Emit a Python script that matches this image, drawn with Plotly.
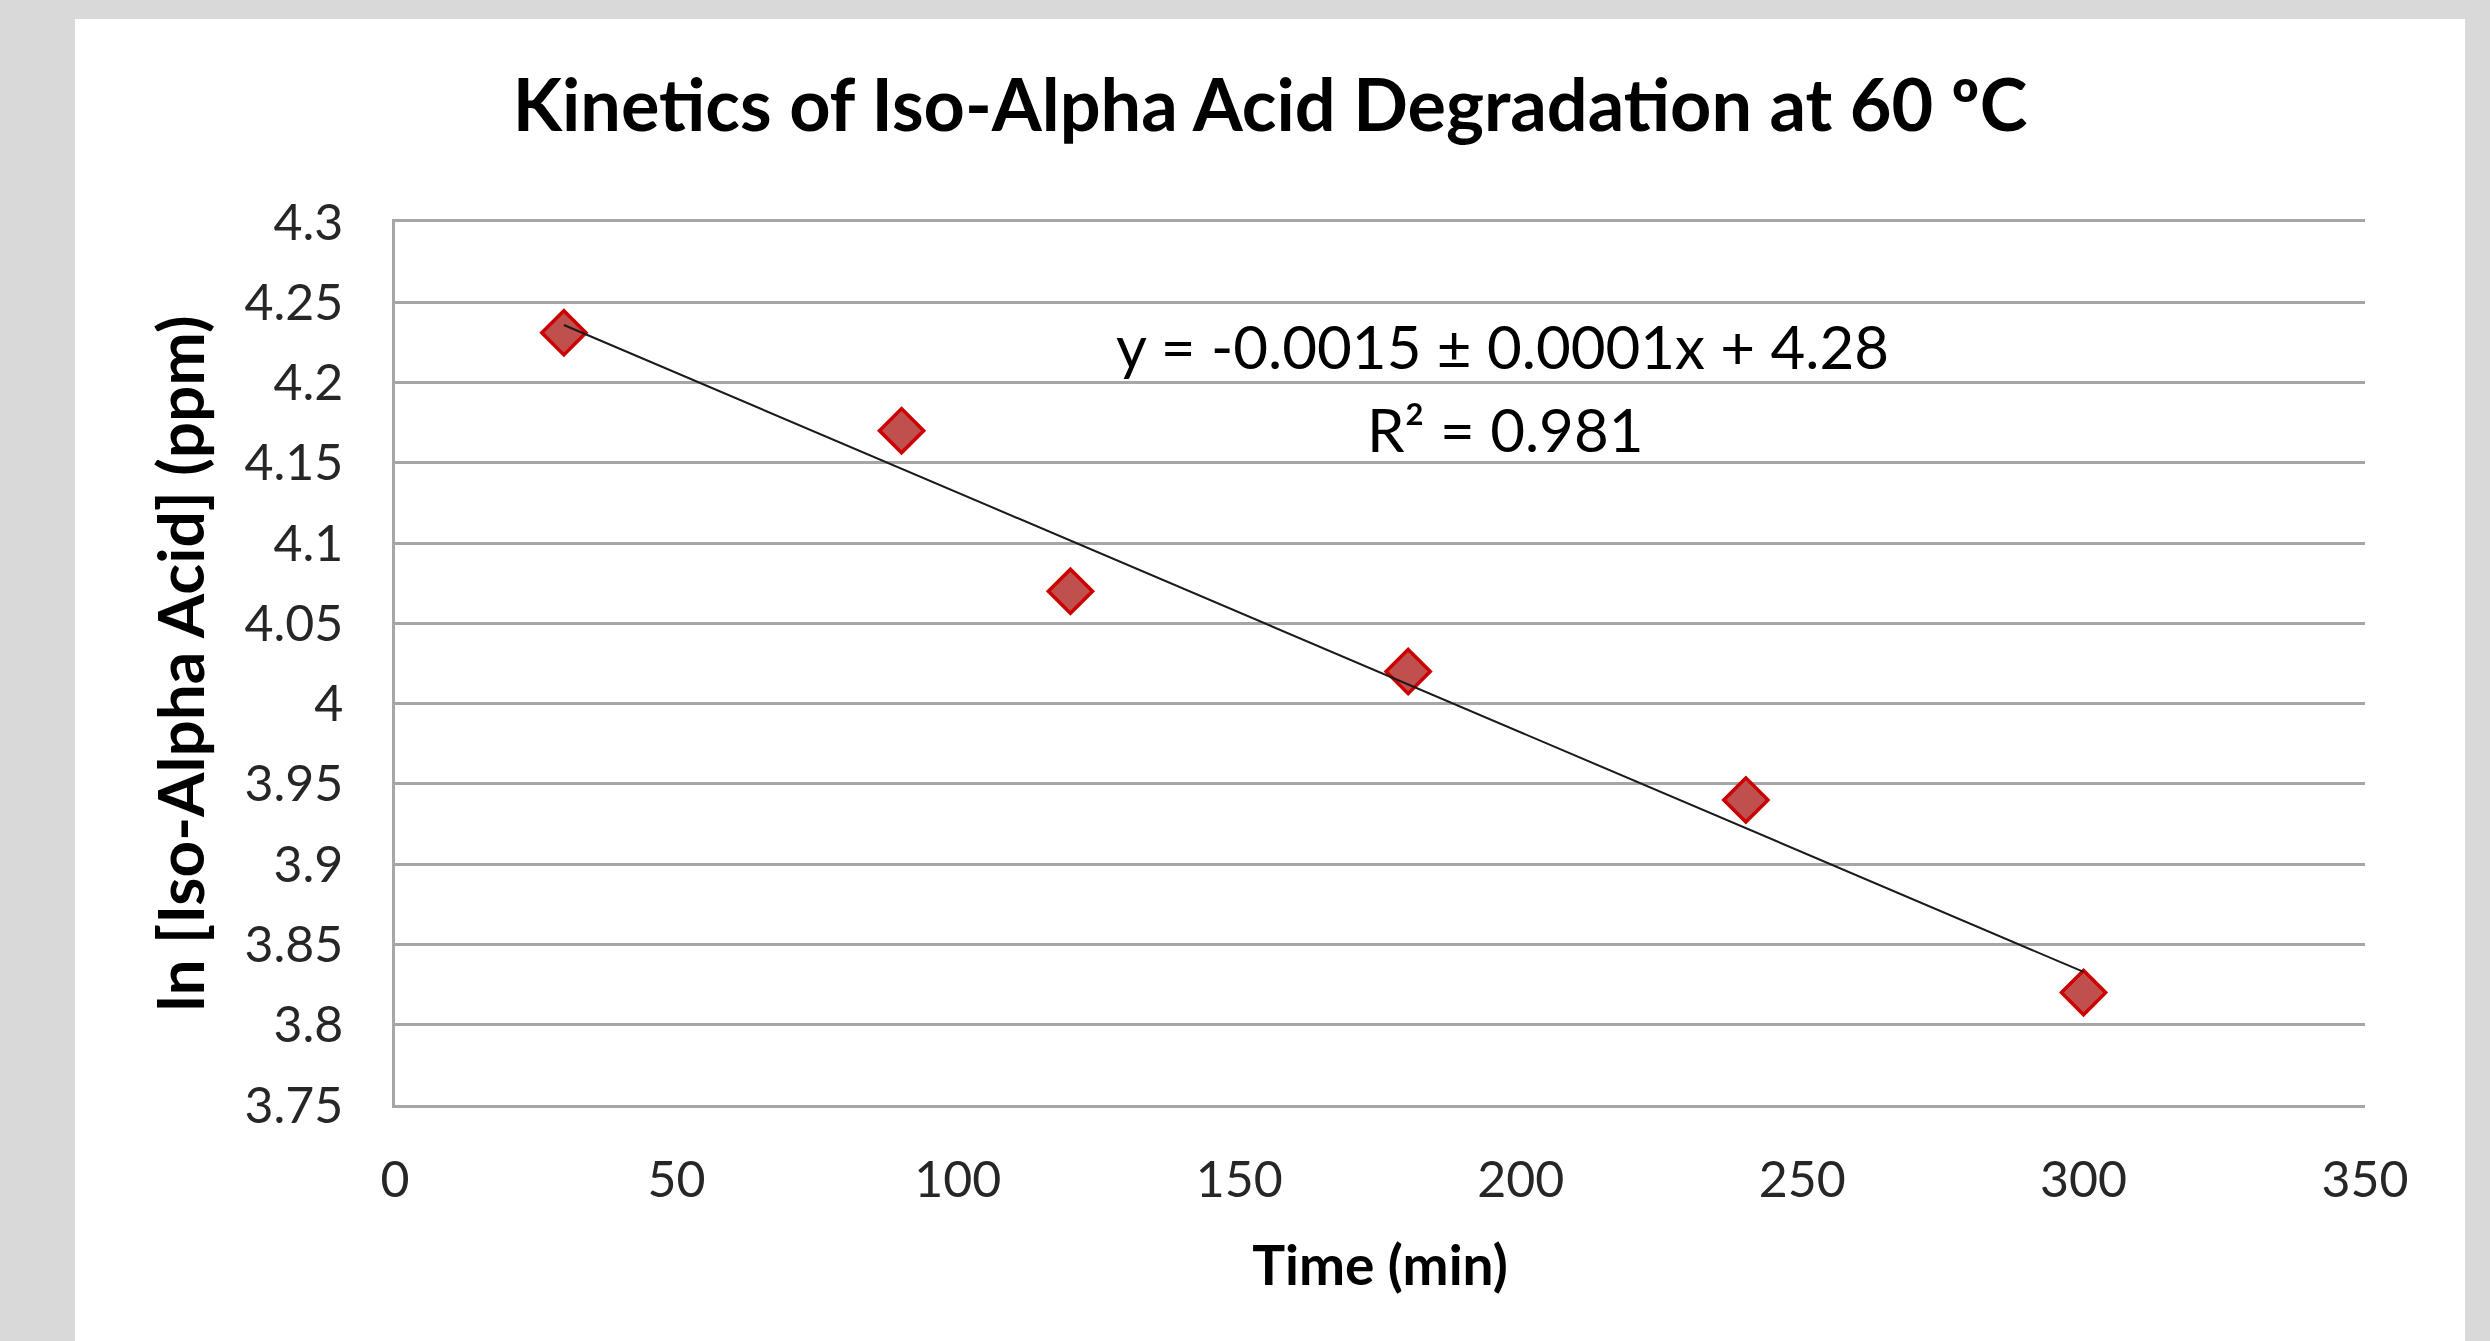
import numpy as np
import plotly.graph_objects as go

# ---- data ----
time_min = [30, 90, 120, 180, 240, 300]
ln_conc = [4.231, 4.170, 4.070, 4.020, 3.940, 3.820]

x_tick_vals = [0, 50, 100, 150, 200, 250, 300, 350]
x_tick_text = ["0", "50", "100", "150", "200", "250", "300", "350"]
y_tick_vals = [3.75, 3.8, 3.85, 3.9, 3.95, 4.0, 4.05, 4.1, 4.15, 4.2, 4.25, 4.3]
y_tick_text = ["3.75", "3.8", "3.85", "3.9", "3.95", "4", "4.05", "4.1", "4.15", "4.2", "4.25", "4.3"]

title_text = "Kinetics of Iso-Alpha Acid Degradation at 60 ºC"
x_title = "Time (min)"
y_title = "ln [Iso-Alpha Acid] (ppm)"
equation_text = "y = -0.0015 ± 0.0001x + 4.28"
r2_text = "R² = 0.981"

# linear trendline fitted to the data
slope, intercept = np.polyfit(time_min, ln_conc, 1)
trend_x = [min(time_min), max(time_min)]
trend_y = [slope * v + intercept for v in trend_x]

W, H = 2490, 1341
L, R, T, B = 395, 125, 222, 236
pw, ph = W - L - R, H - T - B

FONT = "Lato"
GRID = "#a6a6a6"

fig = go.Figure()
fig.add_trace(go.Scatter(
    x=time_min, y=ln_conc, mode="markers",
    marker=dict(symbol="diamond", size=34, color="rgb(192,80,77)",
                line=dict(color="rgb(204,0,0)", width=3.5)),
    showlegend=False, hoverinfo="x+y",
))
fig.add_trace(go.Scatter(
    x=trend_x, y=trend_y, mode="lines",
    line=dict(color="#1a1a1a", width=2),
    showlegend=False, hoverinfo="skip",
))

def px2paper_x(p):
    return (p - L) / pw

def px2paper_y(p):
    return (H - B - p) / ph

# white chart panel on grey slide background
fig.add_shape(type="rect", xref="paper", yref="paper", layer="below",
              x0=px2paper_x(75), x1=px2paper_x(2465),
              y0=px2paper_y(1341), y1=px2paper_y(19),
              fillcolor="white", line=dict(width=0))

fig.add_annotation(text=equation_text, xref="paper", yref="paper",
                   x=px2paper_x(1502), y=px2paper_y(346),
                   xanchor="center", yanchor="middle", showarrow=False,
                   font=dict(family=FONT, size=60, color="#000000"))
fig.add_annotation(text=r2_text, xref="paper", yref="paper",
                   x=px2paper_x(1505), y=px2paper_y(429),
                   xanchor="center", yanchor="middle", showarrow=False,
                   font=dict(family=FONT, size=60, color="#000000"))

fig.update_layout(
    width=W, height=H, autosize=False,
    margin=dict(l=L, r=R, t=T, b=B, pad=0),
    paper_bgcolor="#d9d9d9", plot_bgcolor="rgba(0,0,0,0)",
    font=dict(family=FONT, color="#262626"),
    title=dict(text=title_text, xref="container", yref="container",
               x=1270 / W, y=1 - 106 / H, xanchor="center", yanchor="middle",
               font=dict(family=FONT, size=72, color="#000000", weight="bold")),
    xaxis=dict(range=[0, 350], tickvals=x_tick_vals, ticktext=x_tick_text,
               showgrid=False, zeroline=False,
               showline=True, mirror=True, linecolor=GRID, linewidth=2.5,
               ticks="", ticklabelstandoff=29,
               tickfont=dict(family=FONT, size=50, color="#262626"),
               title=dict(text=x_title, standoff=40,
                          font=dict(family=FONT, size=55, color="#000000", weight="bold"))),
    yaxis=dict(range=[3.75, 4.3], tickvals=y_tick_vals, ticktext=y_tick_text,
               showgrid=True, gridcolor=GRID, gridwidth=2.5,
               zeroline=False, showline=True, linecolor=GRID, linewidth=2.5,
               ticks="", ticklabelstandoff=39,
               tickfont=dict(family=FONT, size=50, color="#262626"),
               title=dict(text=y_title, standoff=20,
                          font=dict(family=FONT, size=64, color="#000000", weight="bold"))),
)

fig.write_html("out.html", config={"displayModeBar": False},
               post_script="document.body.style.margin='0';document.body.style.overflow='hidden';")
